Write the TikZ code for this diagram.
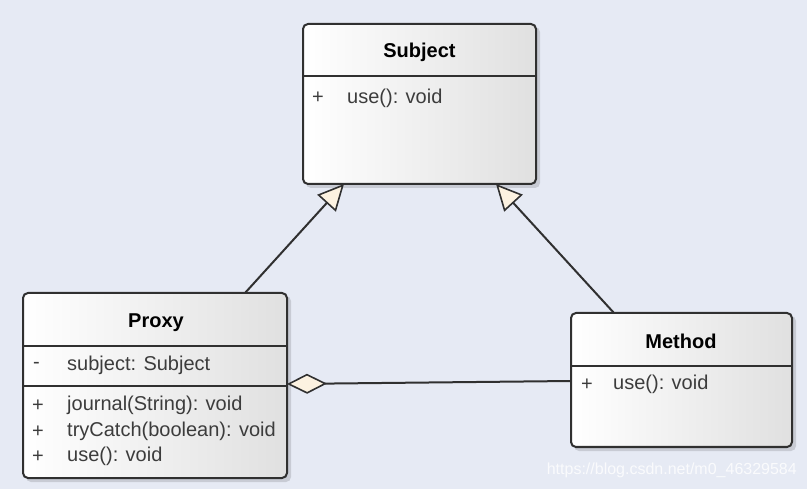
\documentclass[tikz,border=0pt]{standalone}
\usepackage{fontspec}
\setmainfont{Liberation Sans}
\usetikzlibrary{arrows.meta,calc}
\definecolor{bgcol}{HTML}{E6EAF4}
\definecolor{boxgrey}{HTML}{E0E0E0}
\definecolor{edge}{HTML}{303030}
\definecolor{tipfill}{HTML}{FCF2E1}
\definecolor{membcol}{HTML}{3C3C3C}
\tikzset{
  classbox/.style={draw=edge, line width=2pt, rounded corners=5pt, inner sep=0pt, outer sep=0pt,
    left color=white, right color=boxgrey, shading angle=90},
  boxshadow/.style={fill=black, fill opacity=0.13, rounded corners=5pt, draw=none},
  divider/.style={draw=edge, line width=2pt},
  ctitle/.style={font=\fontsize{20}{24}\selectfont\bfseries, text=black, inner sep=0pt},
  member/.style={font=\fontsize{20}{24}\selectfont, text=membcol, anchor=west, inner sep=0pt},
  conn/.style={draw=edge, line width=2pt},
  gen/.style={conn, -{Triangle[length=26pt,width=25pt,fill=tipfill,line width=1.6pt]}},
  aggr/.style={conn, -{Diamond[length=40pt,width=20pt,fill=tipfill,line width=1.6pt]}},
}
\begin{document}
\begin{tikzpicture}[x=1pt,y=-1pt]
\useasboundingbox (0,0) rectangle (807,489);
\fill[bgcol] (0,0) rectangle (807,489);

% shadows
\fill[boxshadow] (306,27) rectangle (540,188);
\fill[boxshadow] (26,296) rectangle (291,482);
\fill[boxshadow] (574,316) rectangle (796,451);

% Subject
\node[classbox, minimum width=233pt, minimum height=160pt] (subject) at (419.5,104) {};
\draw[divider] (subject.west |- 0,76.5) -- (subject.east |- 0,76.5);
\node[ctitle] (subjectT) at (419.5,52.5) {Subject};
\node[member] (subjectV1) at (312,98) {+};
\node[member] (subjectM1) at (347,98) {use(): void};

% Proxy
\node[classbox, minimum width=264pt, minimum height=185pt] (proxy) at (155,385.5) {};
\draw[divider] (proxy.west |- 0,346) -- (proxy.east |- 0,346);
\draw[divider] (proxy.west |- 0,386.5) -- (proxy.east |- 0,386.5);
\node[ctitle] (proxyT) at (156,322.5) {Proxy};
\node[member] (proxyV1) at (33,365) {-};
\node[member] (proxyA1) at (67,365) {subject: Subject};
\node[member] (proxyV2) at (32,405.5) {+};
\node[member] (proxyM1) at (67,405.5) {journal(String): void};
\node[member] (proxyV3) at (32,431.5) {+};
\node[member] (proxyM2) at (67,431.5) {tryCatch(boolean): void};
\node[member] (proxyV4) at (32,456.5) {+};
\node[member] (proxyM3) at (67,456.5) {use(): void};

% Method
\node[classbox, minimum width=221pt, minimum height=134pt] (method) at (681.5,380) {};
\draw[divider] (method.west |- 0,366) -- (method.east |- 0,366);
\node[ctitle] (methodT) at (681,341.5) {Method};
\node[member] (methodV1) at (581,384.5) {+};
\node[member] (methodM1) at (613,384.5) {use(): void};

% connectors
\draw[gen] (proxy.north -| 245,0) -- (subject.south -| 344,0);
\draw[gen] (method.north -| 614,0) -- (subject.south -| 496,0);
\draw[aggr] (method.west |- 0,381) -- (proxy.east |- 0,384);

% watermark
\node[anchor=east, inner sep=0pt, font=\fontsize{16}{18}\selectfont, text=white, opacity=0.8] (wm) at (797,470) {https://blog.csdn.net/m0\_46329584};
\end{tikzpicture}
\end{document}
